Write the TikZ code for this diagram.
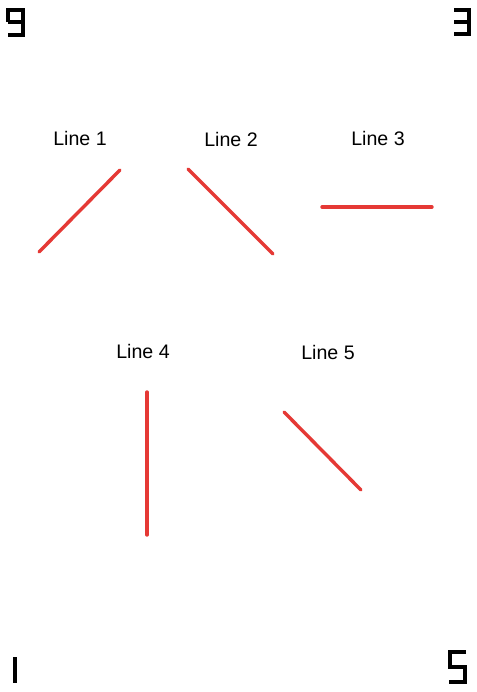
\documentclass[tikz,border=0pt]{standalone}
\usepackage{fontspec}
\setmainfont{Liberation Sans}
\definecolor{linered}{HTML}{E53935}
\begin{document}
\begin{tikzpicture}[x=1pt,y=-1pt,
  lbl/.style={font=\fontsize{19.6}{22}\selectfont, text=black, inner sep=0pt},
  redline/.style={draw=linered, line width=3.4pt, line cap=round},
  digit/.style={draw=black, line width=3.6pt, line cap=butt, line join=miter}]
\useasboundingbox[fill=white] (0,0) rectangle (476,692);
% corner digits
\draw[digit] (8,22) -- (8,10) -- (23,10) -- (23,35) -- (8,35);
\draw[digit] (8,22) -- (23,22);
\draw[digit] (454,10) -- (469,10) -- (469,34) -- (454,34);
\draw[digit] (454,22) -- (469,22);
\draw[digit] (15,657) -- (15,683);
\draw[digit] (466,652) -- (450,652) -- (450,667) -- (465,667) -- (465,682) -- (449,682);
% labels
\node[lbl] (l1) at (80,138) {Line 1};
\node[lbl] (l2) at (231,139) {Line 2};
\node[lbl] (l3) at (378,138) {Line 3};
\node[lbl] (l4) at (143,351) {Line 4};
\node[lbl] (l5) at (328,352) {Line 5};
% lines
\coordinate (a1) at (39,252); \coordinate (b1) at (120,170);
\coordinate (a2) at (188,169); \coordinate (b2) at (273,254);
\coordinate (a3) at (322,207); \coordinate (b3) at (432,207);
\coordinate (a4) at (147,392); \coordinate (b4) at (147,535);
\coordinate (a5) at (284,412); \coordinate (b5) at (361,490);
\draw[redline] (a1) -- (b1);
\draw[redline] (a2) -- (b2);
\draw[redline] (a3) -- (b3);
\draw[redline] (a4) -- (b4);
\draw[redline] (a5) -- (b5);
\end{tikzpicture}
\end{document}
